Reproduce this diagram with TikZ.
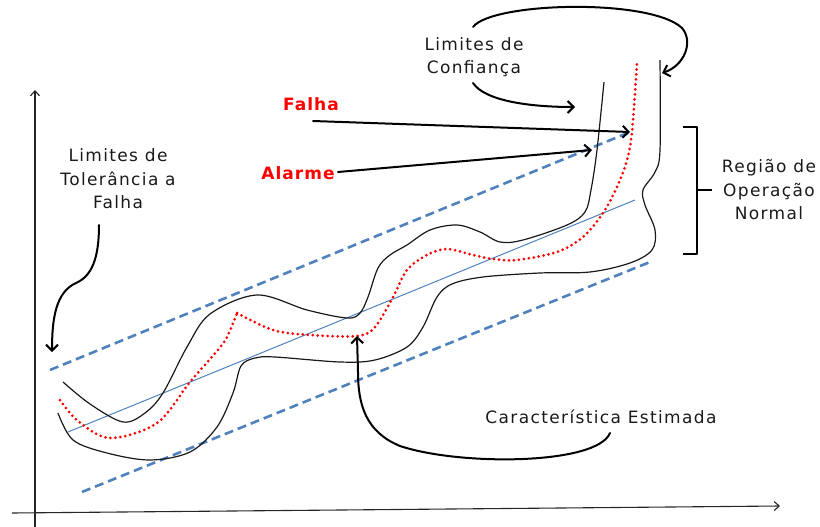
\documentclass[tikz,border=0pt]{standalone}
\usepackage{fontspec}
\setmainfont{DejaVu Sans}
\newfontfamily\lblfont[LetterSpace=8]{DejaVu Sans}
\newfontfamily\redfont[LetterSpace=6]{DejaVu Sans Bold}
\usetikzlibrary{arrows.meta}
\definecolor{dblue}{HTML}{4F81BD}
\definecolor{txt}{HTML}{1A1A1A}
\begin{document}
\begin{tikzpicture}[x=1pt,y=-1pt,
  lbl/.style={font=\lblfont\fontsize{17}{23.5}\selectfont, align=center, text=txt, inner sep=0pt},
  redlbl/.style={font=\redfont\fontsize{17}{20}\selectfont, text=red, inner sep=0pt},
  callout/.style={line width=2pt, line cap=round, -{Straight Barb[length=6pt,width=12pt,line width=2pt]}},
  axisline/.style={line width=1.1pt, color=black!85, -{Straight Barb[length=5pt,width=9pt,line width=1.1pt]}},
  boundary/.style={line width=1.2pt, black!90},
  limitline/.style={line width=2.6pt, dblue, dash pattern=on 9pt off 5pt},
  trendline/.style={line width=1pt, dblue},
  estimate/.style={line width=3pt, red, line cap=round, dash pattern=on 0pt off 5pt}
]
\useasboundingbox (0,0) rectangle (820,527);

% axes
\coordinate (yb) at (35,527);
\coordinate (yt) at (35,90);
\coordinate (xl) at (12,513);
\coordinate (xr) at (780,506);
\draw[axisline] (yb) -- (yt);
\draw[axisline] (xl) -- (xr);

% tolerance limits (dashed)
\coordinate (u1) at (50,370);
\coordinate (u2) at (630,132);
\coordinate (l1) at (82,492);
\coordinate (l2) at (650,262);
\draw[limitline] (u1) -- (u2);
\draw[limitline] (l1) -- (l2);

% trend line
\coordinate (t1) at (68,432);
\coordinate (t2) at (635,200);
\draw[trendline] (t1) -- (t2);

% confidence limits
\draw[boundary] plot[smooth, tension=0.55] coordinates {(63,382) (90,404) (123,422) (145,413) (163,393) (187,347) (210,314) (257,295) (307,310) (347,318) (360,313) (368,297) (378,268) (390,255) (407,245) (430,230) (457,225) (480,232) (500,242) (523,240) (567,225) (585,212) (591,190) (597,150) (604,82)};
\draw[boundary] plot[smooth, tension=0.55] coordinates {(58,413) (73,440) (107,453) (150,460) (190,452) (217,427) (233,393) (241,366) (255,358) (275,357) (340,362) (375,360) (407,347) (423,327) (437,297) (452,284) (483,277) (540,273) (590,272) (630,263) (652,250) (655,230) (645,205) (643,190) (655,172) (660,150) (660,60)};

% estimated characteristic
\draw[estimate] plot[smooth, tension=0.55] coordinates {(60,400) (78,421) (110,438) (157,423) (190,382) (222,345) (231,328) (237,313)};
\draw[estimate] plot[smooth, tension=0.55] coordinates {(237,313) (273,330) (310,335) (357,336) (375,327) (393,297) (407,270) (427,255) (447,249) (473,255) (493,259) (517,260) (557,252) (583,237) (603,213) (617,187) (627,160) (632,132) (637,63)};

% labels
\node[lbl] (conf) at (474,57) {Limites de\\Confiança};
\node[lbl] (tol) at (118,179) {Limites de\\Tolerância a\\Falha};
\node[lbl] (reg) at (769,190) {Região de\\Operação\\Normal};
\node[lbl] (car) at (601,417) {Característica Estimada};
\node[redlbl] (falha) at (311,104) {Falha};
\node[redlbl] (alarme) at (298,173) {Alarme};

% callout arrows
\coordinate (falhaS) at (313,121);
\coordinate (falhaT) at (630,132);
\draw[callout] (falhaS) -- (falhaT);
\coordinate (alarmeS) at (338,172);
\coordinate (alarmeT) at (592,150);
\draw[callout] (alarmeS) -- (alarmeT);

\coordinate (cfA) at (473,27);
\coordinate (cfAT) at (662,73);
\draw[callout] (cfA) .. controls (492,2) and (650,-2) .. (682,28) .. controls (694,42) and (684,66) .. (cfAT);
\coordinate (cfB) at (473,83);
\coordinate (cfBT) at (575,107);
\draw[callout] (cfB) .. controls (485,101) and (530,107) .. (cfBT);

\coordinate (tolS) at (99,225);
\coordinate (tolT) at (52,352);
\draw[callout] (tolS) .. controls (99,258) and (92,276) .. (76,283) .. controls (56,292) and (52,318) .. (tolT);

\coordinate (carS) at (610,433);
\coordinate (carT) at (357,336);
\draw[callout] (carS) .. controls (597,465) and (460,466) .. (400,446) .. controls (366,432) and (358,405) .. (358,372) -- (carT);

% bracket
\coordinate (b1) at (683,127);
\coordinate (b2) at (697,127);
\coordinate (b3) at (697,254);
\coordinate (b4) at (683,254);
\coordinate (bm) at (697,190);
\coordinate (bt) at (712,190);
\draw[line width=1.6pt, line join=round] (b1) -- (b2) -- (b3) -- (b4);
\draw[line width=1.6pt] (bm) -- (bt);
\end{tikzpicture}
\end{document}
